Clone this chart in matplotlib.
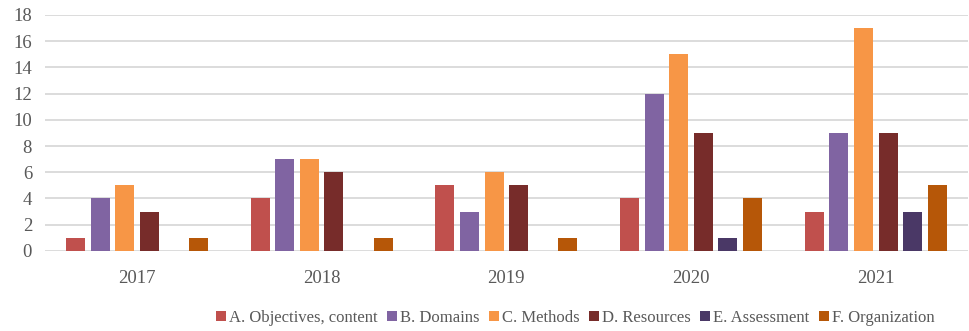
import matplotlib
matplotlib.use("Agg")
import matplotlib.pyplot as plt
import numpy as np

years = ["2017", "2018", "2019", "2020", "2021"]
series_names = ["A. Objectives, content", "B. Domains", "C. Methods",
                "D. Resources", "E. Assessment", "F. Organization"]
objectives = [1, 4, 5, 4, 3]
domains = [4, 7, 3, 12, 9]
methods = [5, 7, 6, 15, 17]
resources = [3, 6, 5, 9, 9]
assessment = [0, 0, 0, 1, 3]
organization = [1, 1, 1, 4, 5]
series_values = [objectives, domains, methods, resources, assessment, organization]
colors = ["#C0504D", "#8064A2", "#F79646", "#772C2A", "#4A3866", "#B65708"]

plt.rcParams["font.family"] = ["Liberation Serif", "DejaVu Serif"]

fig = plt.figure(figsize=(9.7, 3.31), dpi=100)
ax = fig.add_axes([0.046, 0.242, 0.952, 0.713])

x = np.arange(len(years))
step = 0.1333
width = 0.103
for i, (name, vals, c) in enumerate(zip(series_names, series_values, colors)):
    offs = (i - 2.5) * step
    ax.bar(x + offs, vals, width=width, color=c, label=name, zorder=3)

ax.set_xlim(-0.5, len(years) - 0.5)
ax.set_ylim(0, 18)
ax.set_yticks(range(0, 19, 2))
ax.set_xticks(x)
ax.set_xticklabels(years)
ax.grid(axis="y", color="#D9D9D9", linewidth=1.3, zorder=0)
for s in ax.spines.values():
    s.set_visible(False)
ax.tick_params(axis="both", length=0, labelsize=13.5, colors="#595959")
ax.tick_params(axis="x", pad=14)
ax.tick_params(axis="y", pad=9)

ax.legend(loc="center", bbox_to_anchor=(0.593, 0.040),
          bbox_transform=fig.transFigure, ncol=6, frameon=False,
          fontsize=12, handlelength=0.6, handleheight=0.6, handletextpad=0.2,
          columnspacing=0.55, labelcolor="#595959")

fig.savefig("out.png", dpi=100)
